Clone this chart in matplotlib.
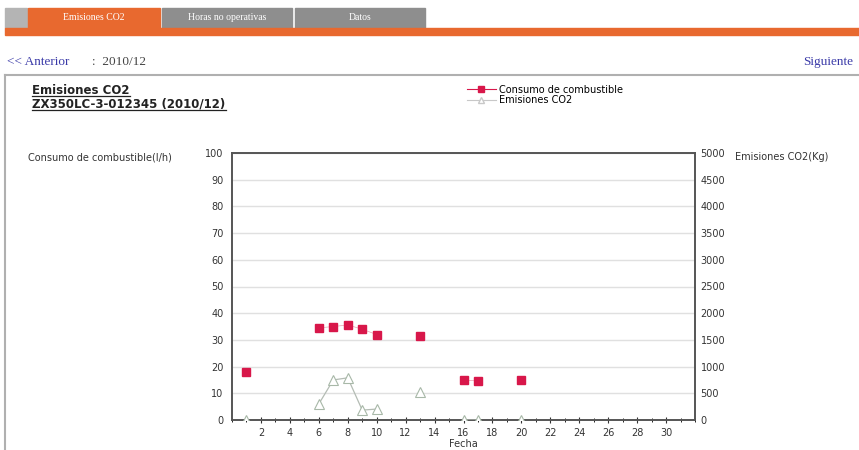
import matplotlib.pyplot as plt
from matplotlib.patches import Rectangle
from matplotlib.lines import Line2D
from matplotlib.ticker import MultipleLocator
import numpy as np

# Datos (dias del mes 2010/12)
dias_comb = [1, 6, 7, 8, 9, 10, 13, 16, 17, 20]
consumo = [18, 34.5, 35, 35.6, 34, 32, 31.5, 15, 14.6, 15]  # l/h

dias_co2 = [1, 6, 7, 8, 9, 10, 13, 16, 17, 20]
emisiones = [0, 300, 750, 790, 185, 205, 525, 0, 0, 0]  # Kg

pestanas = ["Emisiones CO2", "Horas no operativas", "Datos"]

# Serie completa por dia, con huecos (NaN) donde no hay dato
todos_dias = np.arange(1, 32)
cons_full = np.full(31, np.nan)
co2_full = np.full(31, np.nan)
for d, v in zip(dias_comb, consumo):
    cons_full[d - 1] = v
for d, v in zip(dias_co2, emisiones):
    co2_full[d - 1] = v

W, H = 859, 450
fig = plt.figure(figsize=(W / 100, H / 100), dpi=100)


def px(x, y):
    return x / W, 1 - y / H


def caja(x0, y0, x1, y1, color):
    fig.patches.append(Rectangle(px(x0, y1), (x1 - x0) / W, (y1 - y0) / H,
                                 transform=fig.transFigure, color=color, zorder=0))


# Barra de pestanas
caja(5, 8, 27, 28, "#b4b4b4")
caja(28, 8, 160, 28, "#e8692f")
caja(162, 8, 292, 28, "#8e8e8e")
caja(295, 8, 425, 28, "#8e8e8e")
caja(5, 28, W, 35, "#e8692f")
for txt, xc in zip(pestanas, [94, 227, 360]):
    fig.text(*px(xc, 18), txt, ha="center", va="center", color="white",
             fontsize=7, family="Liberation Serif")

# Navegacion
fig.text(*px(7, 62), "<< Anterior", ha="left", va="center", color="#3a3aa8",
         fontsize=9.5, family="Liberation Serif")
fig.text(*px(92, 62), ":  2010/12", ha="left", va="center", color="#444444",
         fontsize=9.5, family="Liberation Serif")
fig.text(*px(803, 62), "Siguiente", ha="left", va="center", color="#3a3aa8",
         fontsize=9.5, family="Liberation Serif")

# Marco del panel
fig.lines.append(Line2D([5 / W, 1], [1 - 75 / H] * 2, transform=fig.transFigure,
                        color="#b0b0b0", lw=1.5))
fig.lines.append(Line2D([5 / W] * 2, [1 - 75 / H, 0], transform=fig.transFigure,
                        color="#b0b0b0", lw=1.5))

# Titulo
fig.text(*px(32, 90), "Emisiones CO2", ha="left", va="center", color="#222222",
         fontsize=8.5, fontweight="bold")
fig.text(*px(32, 104), "ZX350LC-3-012345 (2010/12)", ha="left", va="center",
         color="#222222", fontsize=8.5, fontweight="bold")
fig.lines.append(Line2D([32 / W, 130 / W], [1 - 96 / H] * 2, transform=fig.transFigure,
                        color="#222222", lw=0.9))
fig.lines.append(Line2D([32 / W, 226 / W], [1 - 110 / H] * 2, transform=fig.transFigure,
                        color="#222222", lw=0.9))

# Grafico
ax = fig.add_axes([232 / W, 1 - 420 / H, (695 - 232) / W, (420 - 153) / H])
ax2 = ax.twinx()

rojo = "#d8174a"
gris = "#b4bcb4"

ax.plot(todos_dias, cons_full, color="#e8a0b0", lw=0.5, marker="s", ms=6,
        mec=rojo, mfc=rojo, zorder=4)
ax2.plot(todos_dias, co2_full, color=gris, lw=0.9, marker="^", ms=7,
         mec="#a8b8a8", mfc="white", mew=0.8, zorder=3)

ax.set_xlim(0, 32)
ax.set_ylim(0, 100)
ax2.set_ylim(0, 5000)
ax.xaxis.set_major_locator(MultipleLocator(2))
ax.xaxis.set_minor_locator(MultipleLocator(1))
ax.set_xticks(range(2, 31, 2))
ax.yaxis.set_major_locator(MultipleLocator(10))
ax2.yaxis.set_major_locator(MultipleLocator(500))
ax.grid(axis="y", color="#e0e0e0", lw=1)
ax.set_axisbelow(True)

for a in (ax, ax2):
    for s in a.spines.values():
        s.set_color("#555555")
        s.set_linewidth(1.2)
    a.tick_params(labelsize=7, colors="#333333", length=2, width=0.8)
ax.tick_params(axis="x", which="both", direction="inout", length=4)
ax.tick_params(axis="x", which="minor", length=3)
ax.tick_params(axis="y", length=0, pad=6)
ax2.tick_params(axis="y", length=0, pad=4)

ax.set_xlabel("Fecha", fontsize=7, color="#333333", labelpad=1)
fig.text(*px(28, 157), "Consumo de combustible(l/h)", ha="left", va="center",
         fontsize=7, color="#333333")
fig.text(*px(735, 157), "Emisiones CO2(Kg)", ha="left", va="center",
         fontsize=7, color="#333333")

# Leyenda
h1 = Line2D([], [], color=rojo, lw=0.8, marker="s", ms=5, mfc=rojo, mec=rojo)
h2 = Line2D([], [], color="#c8c8c8", lw=0.8, marker="^", ms=5, mfc="white", mec="#c8c8c8")
fig.legend([h1, h2], ["Consumo de combustible", "Emisiones CO2"],
           loc="upper left", bbox_to_anchor=px(462, 80), frameon=False,
           fontsize=7, handlelength=3, labelspacing=0.05, borderpad=0,
           handletextpad=0.3)

fig.savefig("out.png", dpi=100)
